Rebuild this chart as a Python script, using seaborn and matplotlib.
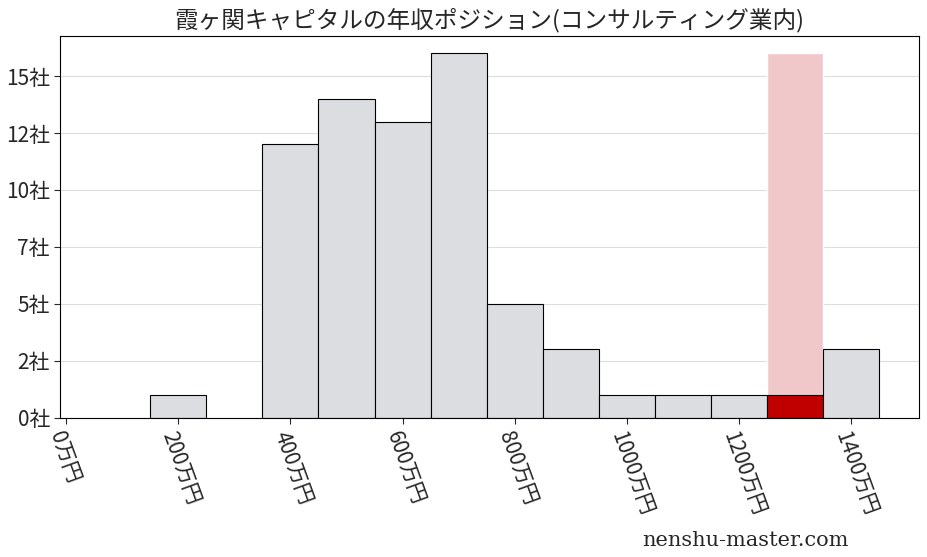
import matplotlib
matplotlib.use("Agg")
import matplotlib.pyplot as plt
import seaborn as sns
from matplotlib.ticker import FuncFormatter

sns.set_style("white")
plt.rcParams['font.family'] = ['Noto Sans CJK JP', 'DejaVu Sans']

# salary bins (万円) and number of companies
bin_centers = [200, 400, 500, 600, 700, 800, 900, 1000, 1100, 1200, 1300, 1400]
counts = [1, 12, 14, 13, 16, 5, 3, 1, 1, 1, 1, 3]
highlight_center = 1300
highlight_height = 16
x_ticks = [0, 200, 400, 600, 800, 1000, 1200, 1400]
y_ticks = [0, 2.5, 5, 7.5, 10, 12.5, 15]

fig, ax = plt.subplots(figsize=(9.28, 5.57), dpi=100)

ax.bar(highlight_center, highlight_height, width=100, color='#f0c8ca', zorder=1)
colors = ['#c00000' if c == highlight_center else '#dcdde0' for c in bin_centers]
ax.bar(bin_centers, counts, width=100, color=colors, edgecolor='black', linewidth=0.8, zorder=2)

ax.set_xlim(-10, 1520)
ax.set_ylim(0, 16.75)
ax.set_xticks(x_ticks)
ax.set_xticklabels([f"{v}万円" for v in x_ticks], rotation=-70, ha='left', rotation_mode='anchor', fontsize=15)
ax.set_yticks(y_ticks)
ax.yaxis.set_major_formatter(FuncFormatter(lambda v, p: f"{int(v)}社"))
ax.tick_params(axis='y', labelsize=15, left=True, length=4)
ax.tick_params(axis='x', bottom=True, length=4)
ax.grid(axis='y', color='#dddddd', linewidth=0.8, zorder=0)
ax.set_axisbelow(True)
for s in ax.spines.values():
    s.set_color('black')

ax.set_title("霞ヶ関キャピタルの年収ポジション(コンサルティング業内)", fontsize=17)
fig.text(0.915, 0.02, "nenshu-master.com", ha='right', fontsize=15, family=['DejaVu Serif'])

plt.subplots_adjust(left=0.065, right=0.99, top=0.935, bottom=0.25)
fig.savefig("out.png")
